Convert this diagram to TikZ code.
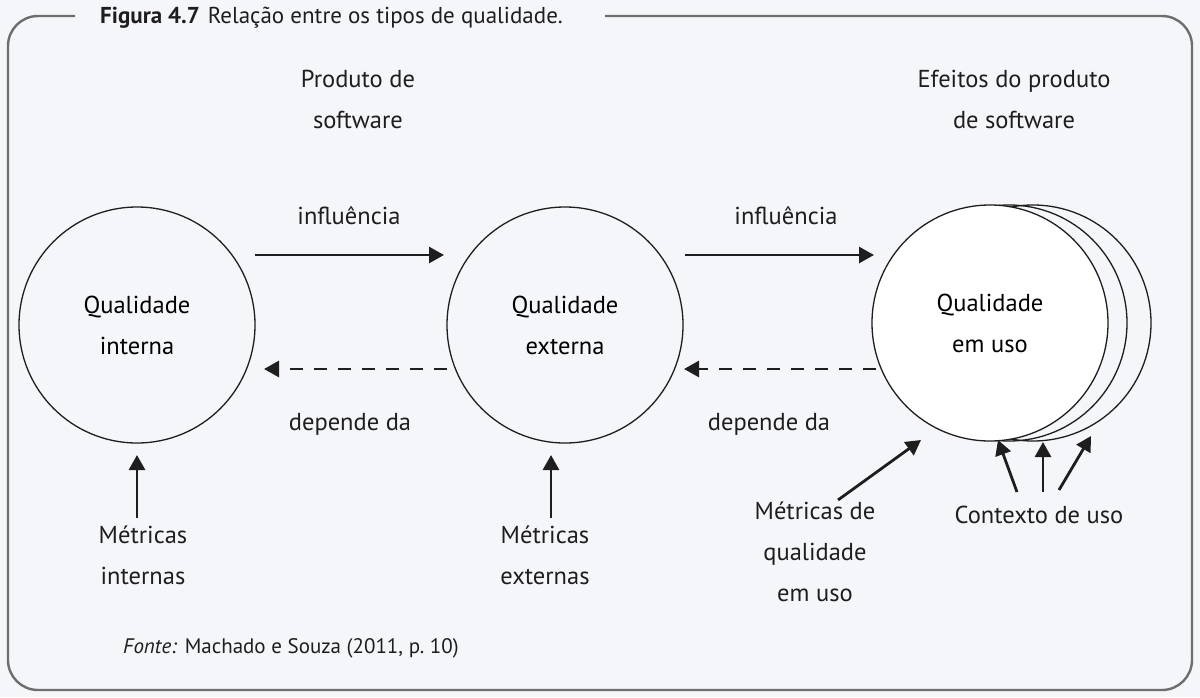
\documentclass[tikz,border=0pt]{standalone}
\usepackage{fontspec}
\setmainfont{PT Sans}
\usetikzlibrary{arrows.meta}
\definecolor{bg}{HTML}{F5F6FA}
\definecolor{frame}{HTML}{6E6E6E}
\definecolor{ink}{HTML}{1E1E1E}
\tikzset{
  qcirc/.style={circle, draw=ink, line width=1.3pt, minimum size=236pt, inner sep=0pt, align=center, font=\fontsize{24.5}{41}\selectfont},
  lbl/.style={align=center, text=ink, font=\fontsize{24.5}{41}\selectfont, inner sep=0pt},
  solidarr/.style={-{Triangle[length=15pt,width=16pt]}, line width=2.8pt, draw=ink},
  dasharr/.style={-{Triangle[length=15pt,width=16pt]}, line width=2.8pt, draw=ink, dash pattern=on 13pt off 11pt},
}
\begin{document}
\begin{tikzpicture}[x=1pt,y=-1pt]
\useasboundingbox[fill=bg] (0,0) rectangle (1200,697);
% frame
\draw[frame, line width=2.4pt, rounded corners=30pt] (75,16) -- (8,16) -- (8,690) -- (1192,690) -- (1192,16) -- (605,16);
\node[anchor=west, inner sep=0pt, text=ink, font=\fontsize{23}{26}\selectfont] (title) at (100,18) {\textbf{Figura 4.7}\hspace{8pt}Relação entre os tipos de qualidade.};
% headings
\node[lbl] (prod) at (358,99) {Produto de\\software};
\node[lbl] (efe) at (1014,99) {Efeitos do produto\\de software};
% circles
\node[qcirc] (qi) at (137,325) {Qualidade\\interna};
\node[qcirc] (qe) at (565,325) {Qualidade\\externa};
\node[circle, draw=ink, line width=1.3pt, minimum size=236pt, inner sep=0pt] (qb2) at (1033,323) {};
\node[circle, draw=ink, line width=1.3pt, minimum size=236pt, inner sep=0pt] (qb1) at (1009,323) {};
\node[qcirc, fill=white] (qu) at (990,323) {Qualidade\\em uso};
% arrow end points
\coordinate (a1s) at (255,255); \coordinate (a1e) at (444,255);
\coordinate (d1s) at (447,369); \coordinate (d1e) at (264,369);
\coordinate (a2s) at (685,255); \coordinate (a2e) at (874,255);
\coordinate (d2s) at (876,369); \coordinate (d2e) at (684,369);
\draw[solidarr] (a1s) -- (a1e);
\draw[dasharr] (d1s) -- (d1e);
\draw[solidarr] (a2s) -- (a2e);
\draw[dasharr] (d2s) -- (d2e);
\node[lbl] (inf1) at (349,216) {influência};
\node[lbl] (inf2) at (786,216) {influência};
\node[lbl] (dep1) at (350,424) {depende da};
\node[lbl] (dep2) at (769,424) {depende da};
% metrics
\node[lbl] (mi) at (143,555) {Métricas\\internas};
\node[lbl] (me) at (545,555) {Métricas\\externas};
\node[lbl] (mu) at (815,552) {Métricas de\\qualidade\\em uso};
\node[lbl] (ctx) at (1039,515) {Contexto de uso};
\coordinate (mit) at (137,518); \coordinate (mih) at (137,455);
\coordinate (met) at (551,518); \coordinate (meh) at (551,455);
\coordinate (mut) at (838,500); \coordinate (muh) at (921,440);
\coordinate (c1t) at (1017,492); \coordinate (c1h) at (998,440);
\coordinate (c2t) at (1043,492); \coordinate (c2h) at (1043,442);
\coordinate (c3t) at (1059,490); \coordinate (c3h) at (1091,436);
\draw[solidarr] (mit) -- (mih);
\draw[solidarr] (met) -- (meh);
\draw[solidarr] (mut) -- (muh);
\draw[solidarr] (c1t) -- (c1h);
\draw[solidarr] (c2t) -- (c2h);
\draw[solidarr] (c3t) -- (c3h);
% source
\node[anchor=west, inner sep=0pt, text=ink, font=\fontsize{21}{24}\selectfont] (fonte) at (123,648) {\textit{Fonte:} Machado e Souza (2011, p.~10)};
\end{tikzpicture}
\end{document}
